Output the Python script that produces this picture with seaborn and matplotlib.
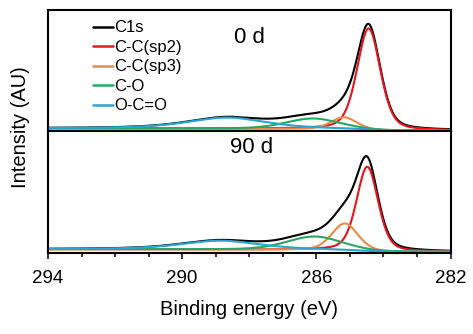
import numpy as np
import pandas as pd
import matplotlib
matplotlib.use("Agg")
import matplotlib.pyplot as plt
from matplotlib.ticker import MultipleLocator
import seaborn as sns

# Fitted C1s components (peak centre in eV, peak height, FWHM in eV, Lorentzian fraction)
components = ["C-C(sp2)", "C-C(sp3)", "C-O", "O-C=O"]
lorentz_frac = [0.35, 0.3, 0.3, 0.6]

centers_0d = [284.44, 285.18, 286.10, 288.65]
heights_0d = [101.5, 12.0, 10.5, 11.0]
fwhm_0d = [0.82, 0.90, 1.90, 2.80]
shirley_step_0d = 2.4

centers_90d = [284.48, 285.15, 286.05, 288.85]
heights_90d = [84.5, 27.0, 13.5, 8.8]
fwhm_90d = [0.76, 0.92, 1.95, 2.80]
shirley_step_90d = 2.8

samples = ["0 d", "90 d"]
xticks = [294, 290, 286, 282]

colors = {
    "C1s": "#000000",
    "C-C(sp2)": "#e3151f",
    "C-C(sp3)": "#e88a48",
    "C-O": "#2ba564",
    "O-C=O": "#2ca4cf",
}
order = ["C1s"] + components

energy = np.linspace(282.0, 294.0, 1201)


def pseudo_voigt(e, center, height, fwhm, eta):
    x = 2.0 * (e - center) / fwhm
    return height * ((1 - eta) * np.exp(-np.log(2) * x ** 2) + eta / (1 + x ** 2))


def build_frame(centers, heights, widths, step):
    peaks = [pseudo_voigt(energy, c, h, w, eta)
             for c, h, w, eta in zip(centers, heights, widths, lorentz_frac)]
    total = np.sum(peaks, axis=0)
    cum = np.cumsum(total)
    background = step * cum / cum[-1]
    rows = [pd.DataFrame({"energy": energy, "intensity": background + total,
                          "component": "C1s"})]
    for name, p in zip(components, peaks):
        rows.append(pd.DataFrame({"energy": energy, "intensity": background + p,
                                  "component": name}))
    return pd.concat(rows, ignore_index=True)


frames = {
    "0 d": build_frame(centers_0d, heights_0d, fwhm_0d, shirley_step_0d),
    "90 d": build_frame(centers_90d, heights_90d, fwhm_90d, shirley_step_90d),
}

sns.set_style("ticks")
plt.rcParams["font.family"] = ["Liberation Sans", "DejaVu Sans"]
plt.rcParams["text.color"] = "black"
plt.rcParams["xtick.color"] = "black"
plt.rcParams["axes.labelcolor"] = "black"

fig = plt.figure(figsize=(4.73, 3.34), dpi=100)
left, width, h = 0.1015, 0.851, 0.3638
ax_top = fig.add_axes([left, 0.6063, width, h])
ax_bot = fig.add_axes([left, 0.2425, width, h])

ylims = {"0 d": (-0.8, 120.7), "90 d": (-1.0, 120.5)}
label_pos = {"0 d": (288.0, 93.0), "90 d": (287.93, 104.8)}

for ax, sample in zip([ax_top, ax_bot], samples):
    sns.lineplot(data=frames[sample], x="energy", y="intensity", hue="component",
                 hue_order=order, palette=colors, linewidth=1.5, sort=False,
                 estimator=None, legend=(sample == "0 d"), ax=ax)
    ax.set_xlim(294, 282)
    ax.set_ylim(*ylims[sample])
    ax.set_yticks([])
    ax.set_xlabel("")
    ax.set_ylabel("")
    for s in ax.spines.values():
        s.set_linewidth(1.5)
        s.set_color("black")
    tx, ty = label_pos[sample]
    ax.text(tx, ty, sample, ha="center", va="center", fontsize=16, color="black")

ax_top.tick_params(axis="x", which="both", bottom=False, labelbottom=False)

ax_bot.set_xticks(xticks)
ax_bot.set_xticklabels([str(t) for t in xticks])
ax_bot.xaxis.set_minor_locator(MultipleLocator(1))
ax_bot.tick_params(axis="x", which="major", direction="out", length=4.3,
                   width=1.1, pad=8, labelsize=13.5, color="black",
                   labelcolor="black")
ax_bot.tick_params(axis="x", which="minor", direction="out", length=2.6,
                   width=1.1, color="black")
ax_bot.set_xlabel("Binding energy (eV)", fontsize=14.5, color="black")
ax_bot.xaxis.set_label_coords(0.5, -0.39)

handles, labels = ax_top.get_legend_handles_labels()
for hd in handles:
    hd.set_linewidth(1.8)
leg = ax_top.legend(handles, labels, loc="upper left", bbox_to_anchor=(0.112, 0.914),
                    frameon=False, fontsize=12, handlelength=1.2, handletextpad=0.05,
                    labelspacing=0.27, borderpad=0, borderaxespad=0)
for t in leg.get_texts():
    t.set_color("black")

fig.text(20.5 / 473, 1 - 127.5 / 334, "Intensity (AU)", rotation=90,
         ha="center", va="center", fontsize=14.5, color="black")

fig.savefig("out.png", dpi=100)
